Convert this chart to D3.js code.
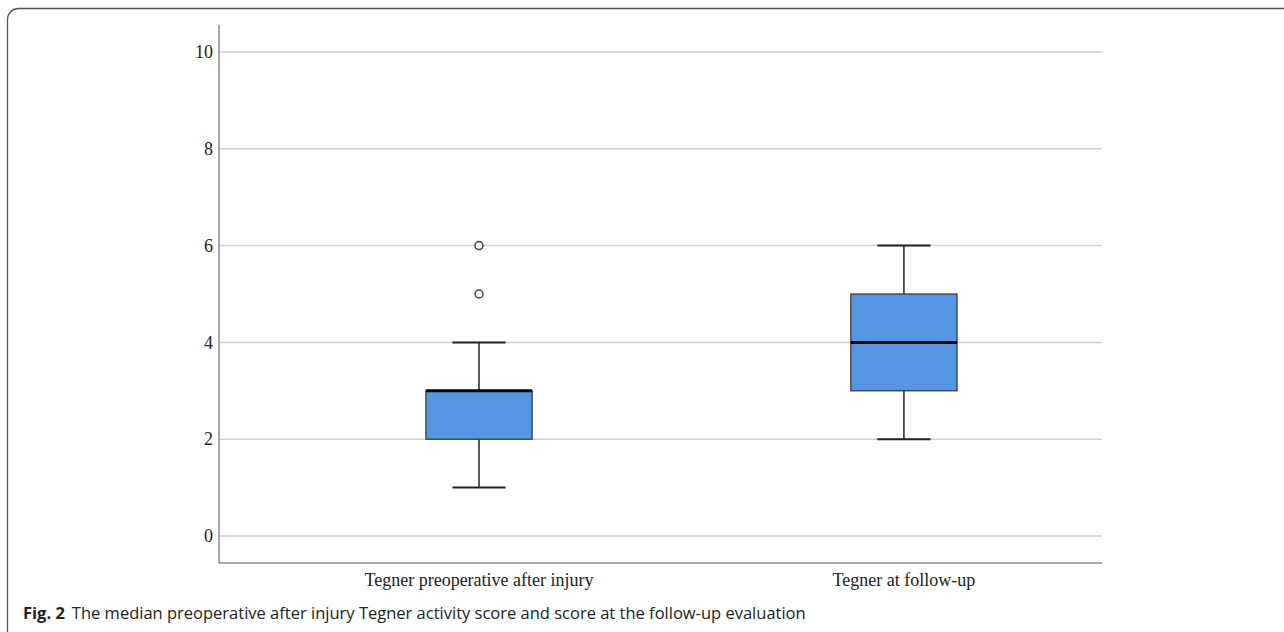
<!DOCTYPE html>
<html>
<head>
<meta charset="utf-8">
<script src="https://cdn.jsdelivr.net/npm/d3@7"></script>
<style>
  html, body { margin: 0; padding: 0; background: #fff; }
  svg { display: block; }
</style>
</head>
<body>
<svg id="chart" width="1284" height="632"></svg>
<script>
// ---- data ----
const categories = ["Tegner preoperative after injury", "Tegner at follow-up"];
const whiskerLow  = [1, 2];
const q1Values    = [2, 3];
const medians     = [3, 4];
const q3Values    = [3, 5];
const whiskerHigh = [4, 6];
const outliers    = [[5, 6], []];
const yTicks      = [0, 2, 4, 6, 8, 10];
const captionBold = "Fig. 2";
const captionText = "The median preoperative after injury Tegner activity score and score at the follow-up evaluation";

const boxes = categories.map((c, i) => ({
  cat: c, lo: whiskerLow[i], q1: q1Values[i], med: medians[i],
  q3: q3Values[i], hi: whiskerHigh[i], out: outliers[i]
}));

const svg = d3.select("#chart");

// frame with rounded corners
svg.append("rect")
  .attr("x", 7.5).attr("y", 8.5)
  .attr("width", 1320).attr("height", 640)
  .attr("rx", 11).attr("ry", 11)
  .attr("fill", "none").attr("stroke", "#555").attr("stroke-width", 1.3);

const plotLeft = 219, plotRight = 1102, axisTop = 25, axisBottom = 563;

const y = d3.scaleLinear().domain([0, 10]).range([536, 52]);
const x = d3.scaleBand().domain(categories)
  .range([plotLeft, plotRight])
  .paddingInner(0.75).paddingOuter(0.414).align(0.588);

// gridlines
svg.append("g").selectAll("line").data(yTicks).join("line")
  .attr("x1", plotLeft).attr("x2", plotRight)
  .attr("y1", d => y(d)).attr("y2", d => y(d))
  .attr("stroke", "#cfcfcf").attr("stroke-width", 1.5);

// y axis labels
const yAxis = svg.append("g")
  .attr("transform", `translate(${plotLeft},0)`)
  .call(d3.axisLeft(y).tickValues(yTicks).tickSize(0).tickPadding(6).tickFormat(d3.format("d")));
yAxis.select(".domain").remove();
yAxis.selectAll("text")
  .attr("font-family", "'Liberation Serif', 'Times New Roman', serif")
  .attr("font-size", 18).attr("fill", "#222");

// x axis labels
const xAxis = svg.append("g")
  .attr("transform", `translate(0,${axisBottom})`)
  .call(d3.axisBottom(x).tickSize(0).tickPadding(10));
xAxis.select(".domain").remove();
xAxis.selectAll("text")
  .attr("font-family", "'Liberation Serif', 'Times New Roman', serif")
  .attr("font-size", 18).attr("fill", "#222");

// axis lines
svg.append("line")
  .attr("x1", plotLeft).attr("x2", plotLeft)
  .attr("y1", axisTop).attr("y2", axisBottom)
  .attr("stroke", "#8a8a8a").attr("stroke-width", 1.5);
svg.append("line")
  .attr("x1", plotLeft).attr("x2", plotRight)
  .attr("y1", axisBottom).attr("y2", axisBottom)
  .attr("stroke", "#8a8a8a").attr("stroke-width", 1.5);

// boxes
const bw = x.bandwidth();
const capW = bw * 0.5;
const g = svg.append("g").selectAll("g").data(boxes).join("g");
const cx = d => x(d.cat) + bw / 2;

g.append("line")
  .attr("x1", cx).attr("x2", cx)
  .attr("y1", d => y(d.hi)).attr("y2", d => y(d.q3))
  .attr("stroke", "#333").attr("stroke-width", 1.6);
g.append("line")
  .attr("x1", cx).attr("x2", cx)
  .attr("y1", d => y(d.q1)).attr("y2", d => y(d.lo))
  .attr("stroke", "#333").attr("stroke-width", 1.6);
g.append("line")
  .attr("x1", d => cx(d) - capW / 2).attr("x2", d => cx(d) + capW / 2)
  .attr("y1", d => y(d.hi)).attr("y2", d => y(d.hi))
  .attr("stroke", "#222").attr("stroke-width", 2);
g.append("line")
  .attr("x1", d => cx(d) - capW / 2).attr("x2", d => cx(d) + capW / 2)
  .attr("y1", d => y(d.lo)).attr("y2", d => y(d.lo))
  .attr("stroke", "#222").attr("stroke-width", 2);
g.append("rect")
  .attr("x", d => x(d.cat)).attr("width", bw)
  .attr("y", d => y(d.q3)).attr("height", d => y(d.q1) - y(d.q3))
  .attr("fill", "#5596e4").attr("stroke", "#333").attr("stroke-width", 1.2);
g.append("line")
  .attr("x1", d => x(d.cat)).attr("x2", d => x(d.cat) + bw)
  .attr("y1", d => y(d.med)).attr("y2", d => y(d.med))
  .attr("stroke", "#000").attr("stroke-width", 3);
g.selectAll("circle").data(d => d.out.map(v => ({v, d}))).join("circle")
  .attr("cx", o => cx(o.d)).attr("cy", o => y(o.v))
  .attr("r", 4).attr("fill", "#fff")
  .attr("stroke", "#444").attr("stroke-width", 1.5);

// caption
const cap = svg.append("text")
  .attr("x", 23).attr("y", 619)
  .attr("font-family", "'Open Sans', 'Noto Sans', sans-serif")
  .attr("font-size", 16.5).attr("fill", "#222");
cap.append("tspan").attr("font-weight", "bold").text(captionBold);
cap.append("tspan").attr("dx", 7).text(captionText);
</script>
</body>
</html>
